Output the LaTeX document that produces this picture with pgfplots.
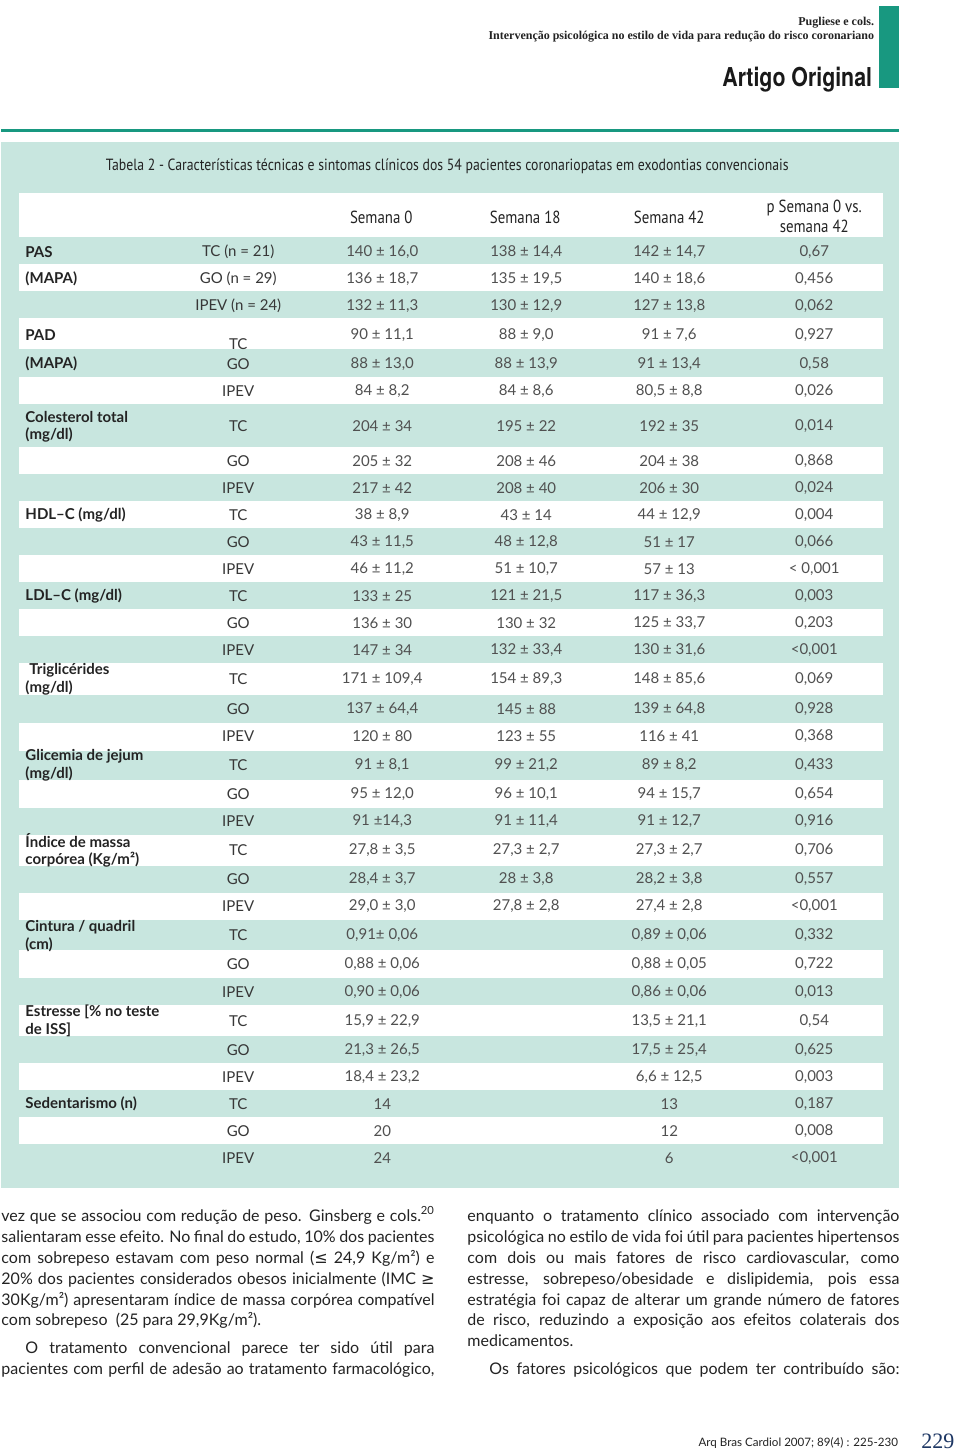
\documentclass[border=0pt]{standalone}
\usepackage{fontspec}
\usepackage{pgfplots}
\usepackage{pgfplotstable}
\pgfplotsset{compat=1.18}
\setmainfont{Lato}
\newfontfamily\bodyf{Lato}
\newfontfamily\tabf{Lato}
\newfontfamily\condf[FakeStretch=0.85]{PT Sans}
\newfontfamily\headf[FakeStretch=0.82]{TeX Gyre Heros}
\newfontfamily\serf{Liberation Serif}
\newfontfamily\symf{DejaVu Sans}
\definecolor{mint}{RGB}{200,230,223}
\definecolor{jgreen}{RGB}{24,152,128}
\definecolor{valgray}{RGB}{80,80,80}
\definecolor{grpgray}{RGB}{55,55,55}
\definecolor{ink}{RGB}{35,35,35}
\definecolor{navy}{RGB}{30,55,100}

% rows: value centre y, group-label y, then the cells
\pgfplotstableread[col sep=semicolon]{
y;gy;g;s0;s18;s42;p
252;252;TC (n = 21);140 ± 16,0;138 ± 14,4;142 ± 14,7;0,67
279;279;GO (n = 29);136 ± 18,7;135 ± 19,5;140 ± 18,6;0,456
306;306;IPEV (n = 24);132 ± 11,3;130 ± 12,9;127 ± 13,8;0,062
335;344;TC;90 ± 11,1;88 ± 9,0;91 ± 7,6;0,927
364;364;GO;88 ± 13,0;88 ± 13,9;91 ± 13,4;0,58
391;391;IPEV;84 ± 8,2;84 ± 8,6;80,5 ± 8,8;0,026
426;426;TC;204 ± 34;195 ± 22;192 ± 35;0,014
461;461;GO;205 ± 32;208 ± 46;204 ± 38;0,868
488;488;IPEV;217 ± 42;208 ± 40;206 ± 30;0,024
515;515;TC;38 ± 8,9;43 ± 14;44 ± 12,9;0,004
542;542;GO;43 ± 11,5;48 ± 12,8;51 ± 17;0,066
569;569;IPEV;46 ± 11,2;51 ± 10,7;57 ± 13;< 0,001
596;596;TC;133 ± 25;121 ± 21,5;117 ± 36,3;0,003
623;623;GO;136 ± 30;130 ± 32;125 ± 33,7;0,203
650;650;IPEV;147 ± 34;132 ± 33,4;130 ± 31,6;<0,001
679;679;TC;171 ± 109,4;154 ± 89,3;148 ± 85,6;0,069
709;709;GO;137 ± 64,4;145 ± 88;139 ± 64,8;0,928
736;736;IPEV;120 ± 80;123 ± 55;116 ± 41;0,368
765;765;TC;91 ± 8,1;99 ± 21,2;89 ± 8,2;0,433
794;794;GO;95 ± 12,0;96 ± 10,1;94 ± 15,7;0,654
821;821;IPEV;91 ±14,3;91 ± 11,4;91 ± 12,7;0,916
850;850;TC;27,8 ± 3,5;27,3 ± 2,7;27,3 ± 2,7;0,706
879;879;GO;28,4 ± 3,7;28 ± 3,8;28,2 ± 3,8;0,557
906;906;IPEV;29,0 ± 3,0;27,8 ± 2,8;27,4 ± 2,8;<0,001
935;935;TC;0,91± 0,06;;0,89 ± 0,06;0,332
964;964;GO;0,88 ± 0,06;;0,88 ± 0,05;0,722
992;992;IPEV;0,90 ± 0,06;;0,86 ±  0,06;0,013
1021;1021;TC;15,9 ± 22,9;;13,5 ± 21,1;0,54
1050;1050;GO;21,3 ± 26,5;;17,5 ± 25,4;0,625
1077;1077;IPEV;18,4 ± 23,2;;6,6 ± 12,5;0,003
1104;1104;TC;14;;13;0,187
1131;1131;GO;20;;12;0,008
1158;1158;IPEV;24;;6;<0,001
}\tabdata

\pgfplotstableread[col sep=semicolon]{
x;y;t
24;252;PAS
24;279;(MAPA)
24;335;PAD
24;364;(MAPA)
24;417;Colesterol total
24;435;(mg/dl)
24;515;HDL–C (mg/dl)
24;596;LDL–C (mg/dl)
28;670;Triglicérides
24;688;(mg/dl)
24;756;Glicemia de jejum
24;774;(mg/dl)
24;841;Índice de massa
24;860;corpórea (Kg/m²)
24;927;Cintura / quadril
24;945;(cm)
24;1012;Estresse [\% no teste
24;1030;de ISS]
24;1104;Sedentarismo (n)
}\labdata

\pgfplotsset{
  cell/.style={draw=none, nodes near coords, point meta=explicit symbolic,
    every node near coord/.style={anchor=center, inner sep=0pt,
      font=\tabf\fontsize{15}{17}\selectfont, text=valgray}},
}
\newcommand{\stripe}[2]{\addplot[fill=white,draw=none] coordinates {(18,#1) (882,#1) (882,#2) (18,#2)} --cycle;}
\newcommand{\jline}[4]{\node[anchor=base west,inner sep=0pt,text=ink,font=\bodyf\fontsize{16}{19}\selectfont] at (axis cs:#1,#2) {\makebox[#3pt][s]{#4}};}

\begin{document}
\begin{tikzpicture}
\begin{axis}[scale only axis, width=960pt, height=1451pt,
  xmin=0, xmax=960, ymin=0, ymax=1451, y dir=reverse,
  hide axis, clip=false]
% page, panel and rule
\addplot[fill=white,draw=none] coordinates {(0,0) (960,0) (960,1451) (0,1451)} --cycle;
\addplot[fill=jgreen,draw=none] coordinates {(878,6) (898,6) (898,88) (878,88)} --cycle;
\addplot[jgreen,line width=2.5pt] coordinates {(0,130.5) (898,130.5)};
\addplot[fill=mint,draw=none] coordinates {(0,142) (898,142) (898,1188) (0,1188)} --cycle;
\stripe{193}{237}
\stripe{264}{291}
\stripe{318}{349}
\stripe{377}{404}
\stripe{447}{474}
\stripe{501}{528}
\stripe{555}{582}
\stripe{609}{636}
\stripe{663}{695}
\stripe{723}{751}
\stripe{780}{808}
\stripe{835}{866}
\stripe{893}{920}
\stripe{950}{978}
\stripe{1005}{1036}
\stripe{1063}{1090}
\stripe{1117}{1144}

% table cells
\addplot[cell, every node near coord/.append style={text=grpgray}] table[x expr=237, y=gy, meta=g] {\tabdata};
\addplot[cell] table[x expr=381, y=y, meta=s0] {\tabdata};
\addplot[cell] table[x expr=525, y=y, meta=s18] {\tabdata};
\addplot[cell] table[x expr=668, y=y, meta=s42] {\tabdata};
\addplot[cell] table[x expr=813, y=y, meta=p] {\tabdata};
\addplot[cell, every node near coord/.append style={anchor=west, text=ink,
  font=\tabf\bfseries\fontsize{15}{17}\selectfont}] table[x=x, y=y, meta=t] {\labdata};

% header row and caption
\begin{scope}[every node/.style={inner sep=0pt, text=ink, font=\condf\fontsize{17.5}{19}\selectfont}]
\node at (axis cs:380,217) {Semana 0};
\node at (axis cs:524,217) {Semana 18};
\node at (axis cs:668,217) {Semana 42};
\node at (axis cs:813,208) {p Semana 0 vs.};
\node at (axis cs:813,226) {semana 42};
\node[font=\condf\fontsize{16.2}{18}\selectfont] at (axis cs:446,166) {Tabela 2 - Características técnicas e sintomas clínicos dos 54 pacientes coronariopatas em exodontias convencionais};
\end{scope}

% running head
\node[anchor=base east,inner sep=0pt,text=ink,font=\serf\bfseries\fontsize{12}{14}\selectfont] at (axis cs:873,25) {Pugliese e cols.};
\node[anchor=base east,inner sep=0pt,text=ink,font=\serf\bfseries\fontsize{12}{14}\selectfont] at (axis cs:873,39) {Intervenção psicológica no estilo de vida para redução do risco coronariano};
\node[anchor=base east,inner sep=0pt,text=black!90,font=\headf\bfseries\fontsize{26}{30}\selectfont] at (axis cs:871,86) {Artigo Original};

% body text, left column
\jline{0}{1221}{433}{vez que se associou com redução de peso.  Ginsberg e cols.\textsuperscript{20}}
\jline{0}{1242}{433}{salientaram esse efeito. No final do estudo, 10\% dos pacientes}
\jline{0}{1263}{433}{com sobrepeso estavam com peso normal ({\symf ≤} 24,9 Kg/m²) e}
\jline{0}{1284}{433}{20\% dos pacientes considerados obesos inicialmente (IMC {\symf ≥}}
\jline{0}{1305}{433}{30Kg/m²) apresentaram índice de massa corpórea compatível}
\node[anchor=base west,inner sep=0pt,text=ink,font=\bodyf\fontsize{16}{19}\selectfont] at (axis cs:0,1325) {com sobrepeso \ (25 para 29,9Kg/m²).};
\jline{24}{1353}{409}{O tratamento convencional parece ter sido útil para}
\jline{0}{1374}{433}{pacientes com perfil de adesão ao tratamento farmacológico,}
% right column
\jline{466}{1221}{432}{enquanto o tratamento clínico associado com intervenção}
\jline{466}{1242}{432}{psicológica no estilo de vida foi útil para pacientes hipertensos}
\jline{466}{1263}{432}{com dois ou mais fatores de risco cardiovascular, como}
\jline{466}{1284}{432}{estresse, sobrepeso/obesidade e dislipidemia, pois essa}
\jline{466}{1305}{432}{estratégia foi capaz de alterar um grande número de fatores}
\jline{466}{1325}{432}{de risco, reduzindo a exposição aos efeitos colaterais dos}
\node[anchor=base west,inner sep=0pt,text=ink,font=\bodyf\fontsize{16}{19}\selectfont] at (axis cs:466,1346) {medicamentos.};
\jline{488}{1374}{410}{Os fatores psicológicos que podem ter contribuído são:}

% footer
\node[anchor=base east,inner sep=0pt,text=ink,font=\tabf\fontsize{11.6}{13}\selectfont] at (axis cs:897,1446) {Arq Bras Cardiol 2007; 89(4) : 225-230};
\node[anchor=base west,inner sep=0pt,text=navy,font=\serf\fontsize{22}{24}\selectfont] at (axis cs:920,1448) {229};
\end{axis}
\end{tikzpicture}
\end{document}
